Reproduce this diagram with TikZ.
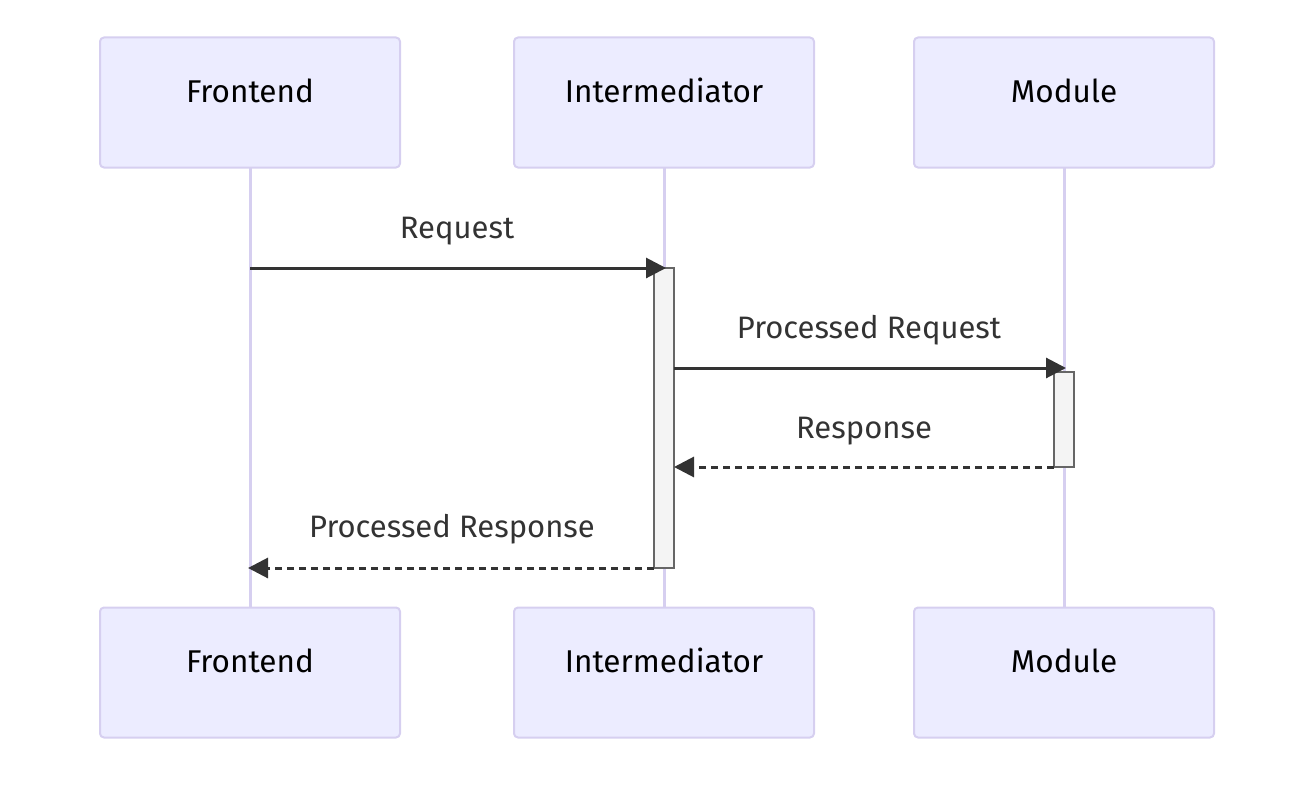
\documentclass[tikz,border=0pt]{standalone}
\usepackage{fontspec}
\setmainfont{Fira Sans}
\usetikzlibrary{arrows.meta}
\definecolor{actorfill}{HTML}{ECECFF}
\definecolor{actorline}{HTML}{D6CFF0}
\definecolor{msgline}{HTML}{333333}
\definecolor{actfill}{HTML}{F4F4F4}
\definecolor{actline}{HTML}{666666}
\tikzset{
  actor/.style={draw=actorline, line width=2pt, fill=actorfill, rounded corners=4pt,
    minimum width=300pt, minimum height=130pt, inner sep=0pt,
    text height=20pt, text depth=20pt, font=\fontsize{31.5}{36}\selectfont, text=black},
  lifeline/.style={draw=actorline, line width=3pt},
  activation/.style={draw=actline, line width=1.5pt, fill=actfill},
  msg/.style={draw=msgline, line width=3pt, -{Triangle[length=20pt,width=20pt]}},
  reply/.style={msg, dash pattern=on 7pt off 5pt},
  msglabel/.style={anchor=base, text=msgline, font=\fontsize{31}{36}\selectfont, inner sep=0pt}
}
\begin{document}
\begin{tikzpicture}[x=1pt, y=-1pt]
  \useasboundingbox (0,0) rectangle (1302,800);
  % lifelines
  \coordinate (fTop) at (250,167);  \coordinate (fBot) at (250,608);
  \coordinate (iTop) at (664,167);  \coordinate (iBot) at (664,608);
  \coordinate (mTop) at (1064,167); \coordinate (mBot) at (1064,608);
  \draw[lifeline] (fTop) -- (fBot);
  \draw[lifeline] (iTop) -- (iBot);
  \draw[lifeline] (mTop) -- (mBot);
  % participants
  \node[actor] (front)  at (250,102.5)  {Frontend};
  \node[actor] (inter)  at (664,102.5)  {Intermediator};
  \node[actor] (module) at (1064,102.5) {Module};
  \node[actor] (frontB)  at (250,672.5)  {Frontend};
  \node[actor] (interB)  at (664,672.5)  {Intermediator};
  \node[actor] (moduleB) at (1064,672.5) {Module};
  % activations
  \draw[activation] (654,268) rectangle (674,568);
  \draw[activation] (1054,372) rectangle (1074,467);
  % message anchors
  \coordinate (r1s) at (250,268);  \coordinate (r1e) at (666,268);
  \coordinate (r2s) at (674,368);  \coordinate (r2e) at (1066,368);
  \coordinate (r3s) at (1054,467); \coordinate (r3e) at (674,467);
  \coordinate (r4s) at (654,568);  \coordinate (r4e) at (248,568);
  \draw[msg] (r1s) -- (r1e);
  \draw[msg] (r2s) -- (r2e);
  \draw[reply] (r3s) -- (r3e);
  \draw[reply] (r4s) -- (r4e);
  % message labels
  \node[msglabel] (l1) at (457,238) {Request};
  \node[msglabel] (l2) at (869,338) {Processed Request};
  \node[msglabel] (l3) at (864,438) {Response};
  \node[msglabel] (l4) at (452,537) {Processed Response};
\end{tikzpicture}
\end{document}
